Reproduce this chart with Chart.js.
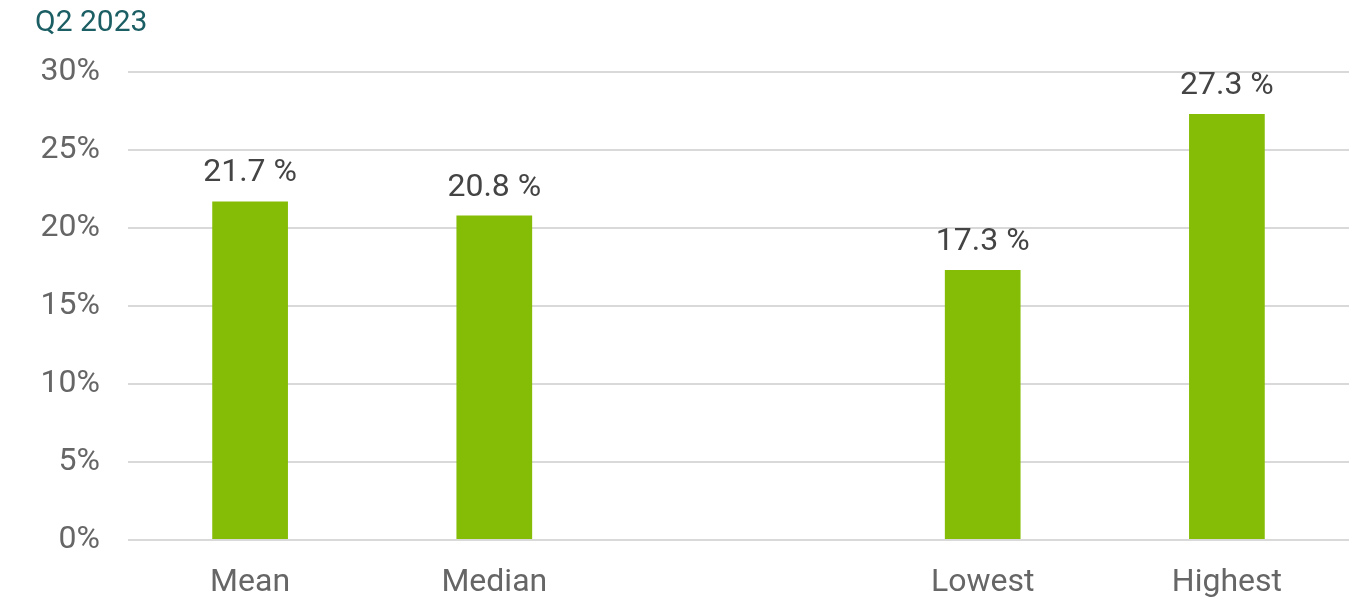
<!DOCTYPE html>
<html>
<head>
<meta charset="utf-8">
<script src="https://cdn.jsdelivr.net/npm/chart.js@4.4.0/dist/chart.umd.min.js"></script>
<style>
  html, body { margin: 0; padding: 0; background: #fff; }
  #wrap { width: 1349px; height: 599px; position: relative; }
</style>
</head>
<body>
<div id="wrap"><canvas id="q2-chart"></canvas></div>
<script>
// Chart data
var categories = ["Mean", "Median", "", "Lowest", "Highest"];
var values = [21.7, 20.8, null, 17.3, 27.3];
var yTicks = [0, 5, 10, 15, 20, 25, 30];

var fontFamily = "Roboto, 'Noto Sans', sans-serif";

// value labels above each bar
var barLabels = {
    id: "barLabels",
    afterDatasetsDraw: function (chart) {
        var ctx = chart.ctx;
        var meta = chart.getDatasetMeta(0);
        ctx.save();
        ctx.font = "32px " + fontFamily;
        ctx.fillStyle = "#444444";
        ctx.textAlign = "center";
        ctx.textBaseline = "alphabetic";
        meta.data.forEach(function (bar, i) {
            if (values[i] === null) return;
            ctx.fillText(values[i].toFixed(1) + " %", bar.x, bar.y - 20);
        });
        ctx.restore();
    }
};

var ctx = document.getElementById("q2-chart");

var chartData = {
    labels: categories,
    datasets: [
        {
            label: "Q2 2023",
            data: values,
            backgroundColor: "#85bc05",
            categoryPercentage: 1,
            barPercentage: 0.31
        }
    ]
};

var chartOptions = {
    responsive: true,
    maintainAspectRatio: false,
    animation: false,
    layout: { padding: { left: 35, right: 0, top: 0, bottom: 0 } },
    plugins: {
        legend: { display: false },
        tooltip: { enabled: false },
        title: {
            display: true,
            text: "Q2 2023",
            align: "start",
            color: "#1b5e63",
            font: { family: fontFamily, size: 30, weight: "normal" },
            padding: { top: 5, bottom: 31 }
        }
    },
    scales: {
        x: {
            grid: { display: false },
            border: { display: false },
            ticks: {
                color: "#666666",
                font: { family: fontFamily, size: 32 },
                padding: 16,
                maxRotation: 0
            },
            afterFit: function (scale) { scale.height = 59; }
        },
        y: {
            min: 0,
            max: 30,
            afterBuildTicks: function (scale) {
                scale.ticks = yTicks.map(function (v) { return { value: v }; });
            },
            grid: { color: "#d9d9d9", lineWidth: 2, drawTicks: false },
            border: { display: false },
            ticks: {
                color: "#666666",
                font: { family: fontFamily, size: 32 },
                padding: 28,
                callback: function (v) { return v + "%"; }
            },
            afterFit: function (scale) { scale.width = 93; }
        }
    }
};

var chart = new Chart(ctx, {
    type: "bar",
    data: chartData,
    options: chartOptions,
    plugins: [barLabels]
});
</script>
</body>
</html>
